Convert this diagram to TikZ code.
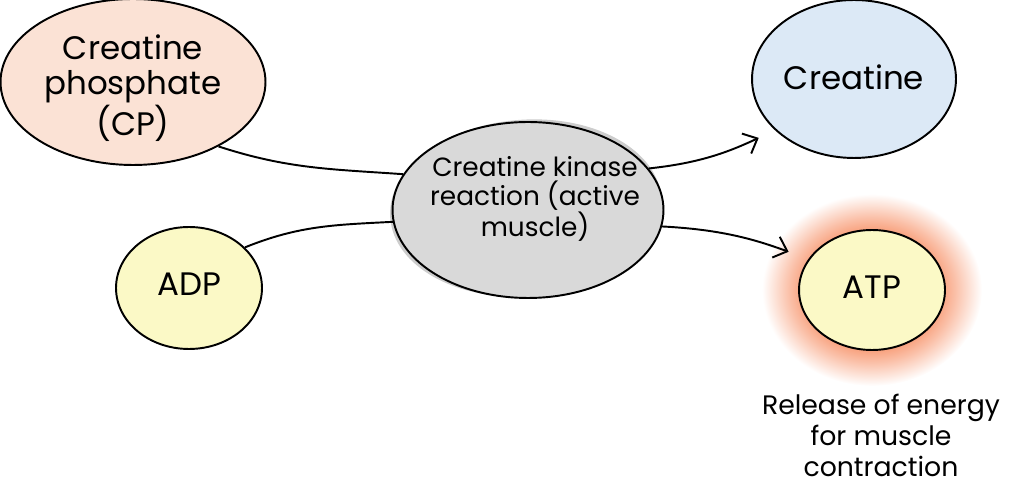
\documentclass[tikz,border=0pt]{standalone}
\usepackage{fontspec}
\setmainfont{Poppins}
\usetikzlibrary{shapes.geometric,arrows.meta}
\definecolor{cpfill}{HTML}{FBE2D5}
\definecolor{crfill}{HTML}{DCE9F6}
\definecolor{ckfill}{HTML}{D9D9D9}
\definecolor{ckshade}{HTML}{CDCDCD}
\definecolor{nucfill}{HTML}{FBF9C6}
\definecolor{glowcol}{HTML}{F8A07C}
\pgfdeclareradialshading{atpglow}{\pgfpoint{0bp}{0bp}}{%
    color(0bp)=(glowcol); color(15.5bp)=(glowcol); color(19bp)=(glowcol!65!white);
    color(25bp)=(white); color(50bp)=(white)}
\newcommand\BlobText[2]{\raisebox{#1}[0pt][0pt]{\makebox[0pt]{\parbox{8cm}{\centering #2}}}}
\tikzset{
    blob/.style={ellipse, draw, line width=1.1pt, inner sep=0pt,
        font=\fontsize{18.5}{19.8}\selectfont},
    link/.style={line width=1.1pt},
    arrowlink/.style={link, -{Straight Barb[length=2.4mm,width=4.4mm,line width=1.1pt]}},
}

\begin{document}
\begin{tikzpicture}[x=0.02cm, y=-0.02cm]
    \useasboundingbox (0,0) rectangle (1024,499);
    % glow + shadow
    \shade[shading=atpglow] (872,290) ellipse [x radius=2.2cm, y radius=1.92cm];
    \fill[ckshade, rotate around={4:(528,210)}] (526,208) ellipse [x radius=2.72cm, y radius=1.77cm];
    % nodes
    \node[blob, fill=cpfill, minimum width=5.3cm, minimum height=3.32cm] (cp) at (133,82)
        {\BlobText{-7.8pt}{Creatine\\phosphate\\(CP)}};
    \node[blob, fill=crfill, minimum width=4.08cm, minimum height=3.16cm] (creatine) at (854,79)
        {\BlobText{-3.5pt}{Creatine}};
    \node[blob, fill=ckfill, minimum width=5.42cm, minimum height=3.52cm,
        font=\fontsize{15}{16.2}\selectfont] (ck) at (528,210)
        {\BlobText{2.6pt}{\hspace*{8pt}Creatine kinase\\\hspace*{8pt}reaction (active\\\hspace*{8pt}muscle)}};
    \node[blob, fill=nucfill, minimum width=2.92cm, minimum height=2.44cm] (adp) at (189,288)
        {\BlobText{-2.4pt}{ADP}};
    \node[blob, fill=nucfill, minimum width=2.92cm, minimum height=2.4cm] (atp) at (872,290)
        {\BlobText{-2.5pt}{ATP}};
    \node[align=center, font=\fontsize{15.2}{17.6}\selectfont] (release) at (881,435)
        {Release of energy\\for muscle\\contraction};
    % connectors
    \draw[link] (cp.-37) to[out=-18, in=176] (ck.164);
    \draw[link] (adp.36) to[out=22, in=183] (ck.185);
    \draw[arrowlink, shorten >=0.36cm] (ck.19) to[out=6, in=205] (creatine.213);
    \draw[arrowlink, shorten >=0.42cm] (ck.-7) to[out=-3, in=160] (atp.154);
\end{tikzpicture}
\end{document}
